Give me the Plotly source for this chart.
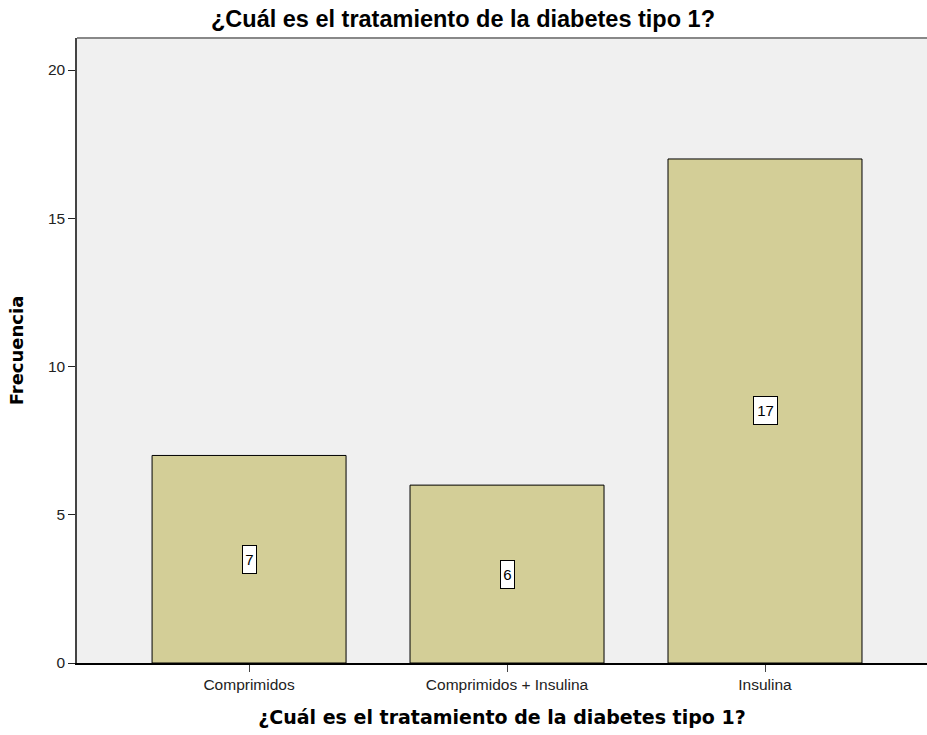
import plotly.graph_objects as go

categories = ["Comprimidos", "Comprimidos + Insulina", "Insulina"]
values = [7, 6, 17]
y_ticks = [0, 5, 10, 15, 20]
title_text = "¿Cuál es el tratamiento de la diabetes tipo 1?"
y_title = "Frecuencia"

W, H = 927, 735

fig = go.Figure()
fig.add_trace(go.Bar(
    x=categories, y=values, width=0.752,
    marker=dict(color="#d3ce97", line=dict(color="#000000", width=1)),
    hoverinfo="skip",
))

for c, v in zip(categories, values):
    fig.add_annotation(
        x=c, y=v / 2, text=str(v), showarrow=False,
        font=dict(family="Liberation Sans, Arial, sans-serif", size=15, color="#000"),
        bgcolor="#ffffff", bordercolor="#000000", borderwidth=1, borderpad=1,
        width=11 if v < 10 else 21, height=25,
    )

fig.update_layout(
    width=W, height=H,
    margin=dict(l=77, r=0, t=38, b=72),
    paper_bgcolor="#ffffff", plot_bgcolor="#f0f0f0",
    showlegend=False,
    title=dict(text="<b>" + title_text + "</b>", x=463 / W, xanchor="center",
               y=1 - 19 / H, yanchor="middle",
               font=dict(family="Liberation Sans, Arial, sans-serif", size=23.5, color="#000")),
    font=dict(family="Liberation Sans, Arial, sans-serif", size=15, color="#222"),
)
fig.update_xaxes(
    range=[-0.667, 2.628], showgrid=False, zeroline=False,
    showline=True, linecolor="#000", linewidth=1.5,
    ticks="outside", ticklen=7, tickcolor="#444", tickwidth=1,
    tickfont=dict(family="Liberation Sans, Arial, sans-serif", size=15.5, color="#222"),
    title=dict(text="<b>" + title_text + "</b>", standoff=18,
               font=dict(family="DejaVu Sans, sans-serif", size=19, color="#000")),
)
fig.update_yaxes(
    range=[0, 21.08], tickvals=y_ticks, showgrid=False, zeroline=False,
    showline=True, linecolor="#444", linewidth=1.5,
    ticks="outside", ticklen=7, tickcolor="#222", tickwidth=1,
    tickfont=dict(family="Liberation Sans, Arial, sans-serif", size=15.5, color="#222"),
    title=dict(text="<b>" + y_title + "</b>", standoff=20,
               font=dict(family="DejaVu Sans, sans-serif", size=18, color="#000")),
)
fig.add_shape(type="line", xref="paper", yref="paper", x0=0, x1=1, y0=1, y1=1,
              line=dict(color="#888", width=2))

fig.write_html(
    "out.html",
    config={"displayModeBar": False},
    post_script="document.body.style.margin='0';document.body.style.overflow='hidden';",
)
